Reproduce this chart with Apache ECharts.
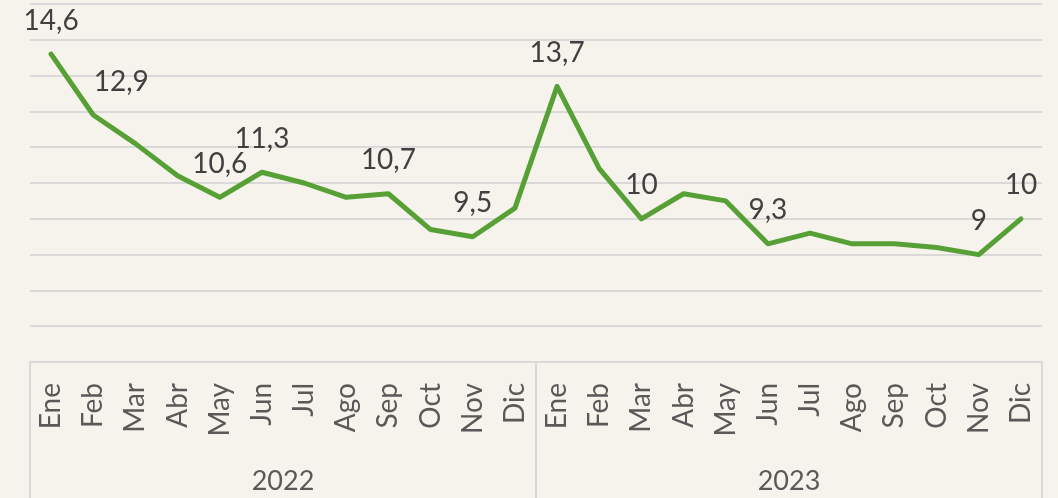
<!DOCTYPE html>
<html>
<head>
<meta charset="utf-8">
<script src="https://cdn.jsdelivr.net/npm/echarts@6/dist/echarts.min.js"></script>
<style>
html,body{margin:0;padding:0;background:#f6f3ed;}
#c{width:1058px;height:498px;}
</style>
</head>
<body>
<div id="c"></div>
<script>
const months = ['Ene','Feb','Mar','Abr','May','Jun','Jul','Ago','Sep','Oct','Nov','Dic',
                'Ene','Feb','Mar','Abr','May','Jun','Jul','Ago','Sep','Oct','Nov','Dic'];
const years = ['2022','2023'];
const values = [14.6,12.9,12.1,11.2,10.6,11.3,11.0,10.6,10.7,9.7,9.5,10.3,
                13.7,11.4,10.0,10.7,10.5,9.3,9.6,9.3,9.3,9.2,9.0,10.0];
// indexes of points that carry a data label
const labelled = [0,1,4,5,8,10,12,14,17,22,23];

const FONT = 'Lato';
const data = values.map((v,i)=>{
  const d = {value:v};
  if (i === 1) d.label = {offset:[28,0]};
  return d;
});

const chart = echarts.init(document.getElementById('c'));
chart.setOption({
  backgroundColor:'#f6f3ed',
  animation:false,
  grid:{left:30,right:16,top:4,bottom:136,containLabel:false},
  xAxis:[{
    type:'category',
    data:months,
    boundaryGap:true,
    axisLine:{show:true,lineStyle:{color:'#d9d9d9',width:2}},
    axisTick:{show:false},
    axisLabel:{rotate:90,interval:0,margin:21,color:'#595959',fontFamily:FONT,fontSize:28}
  },{
    type:'category',
    data:years,
    position:'bottom',
    boundaryGap:true,
    axisLine:{show:false},
    axisTick:{show:true,length:136,interval:0,lineStyle:{color:'#d9d9d9',width:2}},
    axisLabel:{margin:106,color:'#595959',fontFamily:FONT,fontSize:27,verticalAlign:'top'}
  }],
  yAxis:{
    type:'value',min:6,max:16,interval:1,
    axisLine:{show:false},axisTick:{show:false},axisLabel:{show:false},
    splitLine:{show:true,lineStyle:{color:'#d9d9d9',width:2}}
  },
  series:[{
    type:'line',
    xAxisIndex:0,
    data:data,
    symbol:'circle',
    symbolSize:1,
    showSymbol:true,
    showAllSymbol:true,
    itemStyle:{color:'rgba(0,0,0,0)'},
    lineStyle:{color:'#56a036',width:5,join:'round',cap:'round'},
    label:{show:true,position:'top',distance:19,color:'#404040',fontFamily:FONT,fontSize:28,
      formatter:p=>labelled.indexOf(p.dataIndex) >= 0 ? String(p.value).replace('.',',') : ''}
  }]
});
</script>
</body>
</html>
